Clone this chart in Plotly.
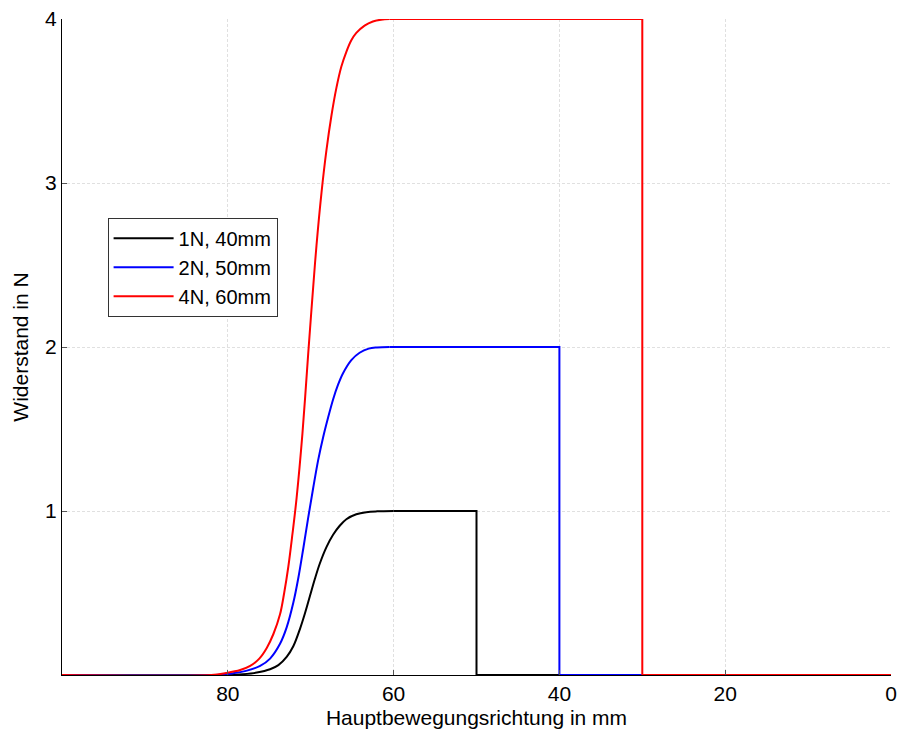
import plotly.graph_objects as go

# Data
# Each series: a rising part (smooth), then a plateau that drops to zero at a given position
black_name = "1N, 40mm"
black_rise_x = [100, 80, 78.2, 76.5, 74.9, 73.9, 72.9, 72.1, 71.3, 70.7, 70.1, 69.5, 68.9, 68.1,
                67.3, 66.5, 65.7, 64.5, 63.3, 62, 60]
black_rise_y = [0, 0, 0.005, 0.015, 0.035, 0.06, 0.11, 0.175, 0.28, 0.375, 0.48, 0.585, 0.68, 0.78,
                0.855, 0.91, 0.95, 0.98, 0.993, 0.998, 1.0]
black_level = 1.0
black_drop = 50

blue_name = "2N, 50mm"
blue_rise_x = [100, 81.5, 79.4, 77.8, 76.1, 74.9, 73.7, 72.9, 72.1, 71.5, 70.9, 70.3, 69.7, 69.1,
               68.5, 67.9, 67.3, 66.7, 66.1, 65.1, 64.1, 63, 62, 60.5]
blue_rise_y = [0, 0, 0.01, 0.025, 0.055, 0.1, 0.19, 0.29, 0.44, 0.59, 0.77, 0.96, 1.14, 1.31,
               1.45, 1.57, 1.68, 1.77, 1.84, 1.92, 1.965, 1.99, 1.997, 2.0]
blue_level = 2.0
blue_drop = 40

red_name = "4N, 60mm"
red_rise_x = [100, 82, 80.2, 78.5, 77.3, 76.2, 75.3, 74.5, 73.7, 73.2, 72.7, 72.2, 71.7, 71.0,
              70.3, 69.8, 69.3, 68.7, 68.1, 67.5, 66.9, 66.3, 65.7, 65.1, 64.5, 63.5, 62.5, 61.5,
              60.5]
red_rise_y = [0, 0, 0.012, 0.03, 0.055, 0.1, 0.165, 0.25, 0.37, 0.5, 0.66, 0.86, 1.08, 1.47,
              1.96, 2.3, 2.62, 2.94, 3.2, 3.41, 3.58, 3.71, 3.8, 3.87, 3.915, 3.96, 3.985, 3.996,
              4.0]
red_level = 4.0
red_drop = 30

x_end = 0
x_ticks = [80, 60, 40, 20, 0]
y_ticks = [1, 2, 3, 4]
x_title = "Hauptbewegungsrichtung in mm"
y_title = "Widerstand in N"

FONT = "Liberation Sans, Arial, sans-serif"

fig = go.Figure()
series = [
    (black_rise_x, black_rise_y, black_level, black_drop, black_name, "#000000"),
    (blue_rise_x, blue_rise_y, blue_level, blue_drop, blue_name, "#0000ff"),
    (red_rise_x, red_rise_y, red_level, red_drop, red_name, "#ff0000"),
]
for rx, ry, lvl, drop, name, col in series:
    fig.add_trace(go.Scatter(x=rx, y=ry, mode="lines", name=name, legendgroup=name,
                             line=dict(color=col, width=2, shape="spline", smoothing=1.0)))
    fig.add_trace(go.Scatter(x=[rx[-1], drop, drop, x_end], y=[lvl, lvl, 0, 0], mode="lines",
                             name=name, legendgroup=name, showlegend=False,
                             line=dict(color=col, width=2)))

fig.update_layout(
    width=900, height=735,
    margin=dict(l=62, r=9, t=19, b=60, autoexpand=False),
    paper_bgcolor="white", plot_bgcolor="white",
    font=dict(family=FONT, size=21, color="black"),
    showlegend=True,
    legend=dict(x=0.055, y=0.697, xanchor="left", yanchor="top",
                bordercolor="#333333", borderwidth=1, bgcolor="white",
                font=dict(size=20, family=FONT), tracegroupgap=0, itemwidth=60),
)
fig.update_xaxes(
    range=[100, 0], tickvals=x_ticks, ticktext=[str(v) for v in x_ticks],
    showgrid=True, gridcolor="#e0e0e0", griddash="3px,2px", gridwidth=1,
    showline=True, linecolor="black", linewidth=1, mirror=False,
    ticks="inside", ticklen=5, tickcolor="#555555",
    zeroline=False, automargin=False,
    title=dict(text=x_title, font=dict(size=21), standoff=6),
)
fig.update_yaxes(
    range=[0, 4], tickvals=y_ticks, ticktext=[str(v) for v in y_ticks],
    showgrid=True, gridcolor="#e0e0e0", griddash="3px,2px", gridwidth=1,
    showline=True, linecolor="black", linewidth=1, mirror=False,
    ticks="inside", ticklen=5, tickcolor="#555555",
    zeroline=False, automargin=False,
    title=dict(text=y_title, font=dict(size=21), standoff=10),
)

fig.write_html("out.html")
